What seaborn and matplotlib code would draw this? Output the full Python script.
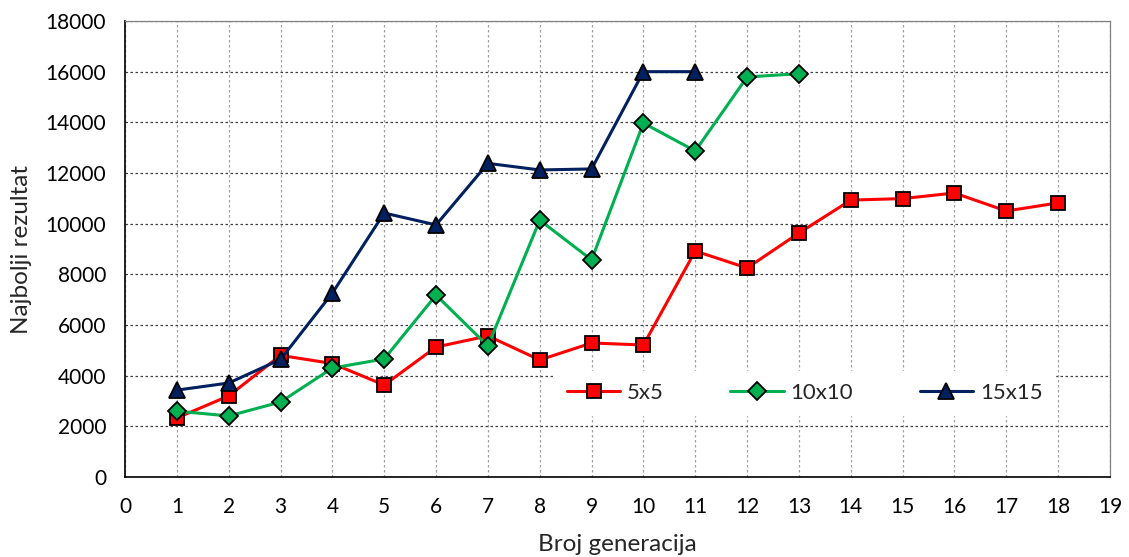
import matplotlib
matplotlib.use("Agg")
import matplotlib.pyplot as plt
import seaborn as sns
import pandas as pd
import numpy as np

# data
gen_5x5 = list(range(1, 19))
val_5x5 = [2330, 3200, 4800, 4480, 3630, 5130, 5570, 4620, 5290, 5210,
           8920, 8250, 9630, 10930, 10990, 11210, 10500, 10820]

gen_10x10 = list(range(1, 14))
val_10x10 = [2600, 2410, 2960, 4300, 4660, 7180, 5170, 10140, 8570, 13970,
             12870, 15790, 15920]

gen_15x15 = list(range(1, 12))
val_15x15 = [3430, 3710, 4640, 7260, 10420, 9950, 12380, 12120, 12160, 16000, 16000]

series_names = ['5x5', '10x10', '15x15']
series_colors = ['#FF0000', '#00B050', '#002060']
series_markers = ['s', 'D', '^']

df = pd.concat([
    pd.DataFrame({'gen': gen_5x5, 'val': val_5x5, 'serija': '5x5'}),
    pd.DataFrame({'gen': gen_10x10, 'val': val_10x10, 'serija': '10x10'}),
    pd.DataFrame({'gen': gen_15x15, 'val': val_15x15, 'serija': '15x15'}),
])

sns.set_style("white")
plt.rcParams['font.family'] = ['Lato', 'DejaVu Sans']

fig = plt.figure(figsize=(11.29, 5.57), dpi=100)
ax = fig.add_axes([125 / 1129, 1 - 477 / 557, 985 / 1129, 456 / 557])

sizes = {'5x5': 10, '10x10': 9.5, '15x15': 11}
for name, col, mk in zip(series_names, series_colors, series_markers):
    sub = df[df['serija'] == name]
    sns.lineplot(data=sub, x='gen', y='val', ax=ax, color=col, marker=mk,
                 markersize=sizes[name], markeredgecolor='black',
                 markeredgewidth=1.3, linewidth=2.2, label=name, zorder=3)

ax.set_xlim(0, 19)
ax.set_ylim(0, 18000)
ax.set_xticks(np.arange(0, 20, 1))
ax.set_yticks(np.arange(0, 18001, 2000))

ax.xaxis.grid(True, linestyle=(0, (2, 2)), color='#a0a0a0', linewidth=0.9)
ax.yaxis.grid(True, linestyle=(0, (2, 2)), color='#404040', linewidth=0.9)
ax.set_axisbelow(True)

for side in ['top', 'right']:
    ax.spines[side].set_color('#808080')
    ax.spines[side].set_linewidth(0.9)
for side in ['left', 'bottom']:
    ax.spines[side].set_color('black')
    ax.spines[side].set_linewidth(1.2)

ax.tick_params(axis='both', direction='inout', length=9, width=1,
               labelsize=15, colors='black')
ax.tick_params(axis='x', pad=10)
ax.tick_params(axis='y', pad=9)

ax.set_xlabel('Broj generacija', fontsize=17.5, labelpad=12)
ax.set_ylabel('Najbolji rezultat', fontsize=17.5, labelpad=10)

leg = ax.legend(loc='center', bbox_to_anchor=(0.69, 0.184), ncol=3,
                frameon=True, fancybox=False, framealpha=1, edgecolor='white',
                facecolor='white', fontsize=16, columnspacing=3.0,
                handlelength=2.4, handletextpad=0.3, borderpad=0.55,
                borderaxespad=0)
leg.set_zorder(2)

fig.savefig('out.png', dpi=100)
